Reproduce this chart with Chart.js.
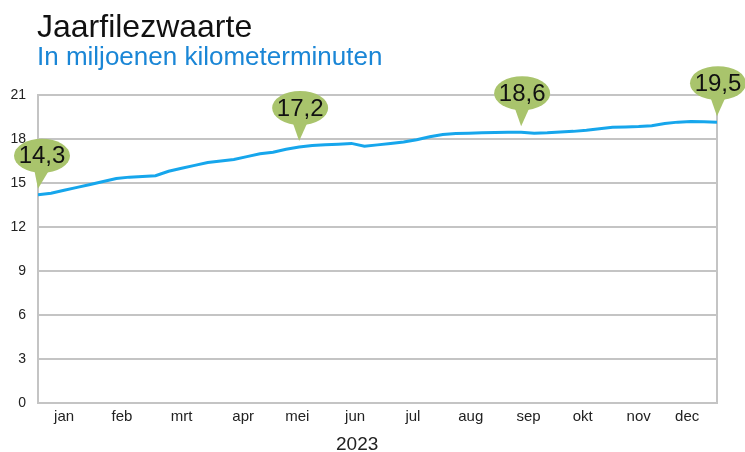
<!DOCTYPE html>
<html>
<head>
<meta charset="utf-8">
<script src="https://cdn.jsdelivr.net/npm/chart.js@4.4.1/dist/chart.umd.min.js"></script>
<style>
  html, body { margin: 0; padding: 0; background: #fff; }
  #wrap { position: relative; width: 745px; height: 452px; font-family: "Liberation Sans", Arial, sans-serif; }
  #chart { position: absolute; left: 0; top: 0; }
  .txt { position: absolute; white-space: nowrap; line-height: 1; }
  #title { left: 37px; top: 10px; font-size: 32px; color: #111; }
  #subtitle { left: 37px; top: 43px; font-size: 26px; color: #1a86d6; }
  #year { left: 336px; top: 434px; font-size: 19px; color: #222; }
</style>
</head>
<body>
<div id="wrap">
  <canvas id="chart" width="745" height="452"></canvas>
  <div class="txt" id="title">Jaarfilezwaarte</div>
  <div class="txt" id="subtitle">In miljoenen kilometerminuten</div>
  <div class="txt" id="year">2023</div>
</div>
<script>
// Jaarfilezwaarte per week (miljoen kilometerminuten, voortschrijdend jaartotaal)
const weekValues = [
  14.2, 14.3, 14.5, 14.7, 14.9, 15.1, 15.3, 15.4, 15.45, 15.5,
  15.8, 16.0, 16.2, 16.4, 16.5, 16.6, 16.8, 17.0, 17.1, 17.3,
  17.45, 17.55, 17.6, 17.65, 17.7, 17.5, 17.6, 17.7, 17.8, 17.95,
  18.15, 18.3, 18.38, 18.4, 18.42, 18.45, 18.46, 18.46, 18.4, 18.43,
  18.48, 18.52, 18.6, 18.7, 18.8, 18.82, 18.85, 18.9, 19.05, 19.15,
  19.2, 19.18, 19.15
];
const weekDays = weekValues.map((_, i) => i * 7);

// maanden op de x-as
const monthLabels = ['jan', 'feb', 'mrt', 'apr', 'mei', 'jun', 'jul', 'aug', 'sep', 'okt', 'nov', 'dec'];
const monthTickDays = [14, 45, 77, 110, 139, 170, 201, 232, 263, 292, 322, 348];

// y-as
const yTicks = [0, 3, 6, 9, 12, 15, 18, 21];

// ballonnen
const calloutDays = [0, 140, 259, 364];
const calloutLabels = ['14,3', '17,2', '18,6', '19,5'];

const gridColor = '#c4c4c4';

// ballonnetjes met waarde boven de lijn
const calloutPlugin = {
  id: 'callouts',
  afterDatasetsDraw(chart) {
    const { ctx, scales: { x, y } } = chart;
    ctx.save();
    calloutDays.forEach((day, i) => {
      const idx = Math.round(day / 7);
      const px = x.getPixelForValue(day);
      const py = y.getPixelForValue(weekValues[idx]);
      const tipX = px;
      const tipY = py - 6;
      const cx = i === 0 ? tipX + 4 : tipX + 1;
      const cy = tipY - 33;
      const rx = 28, ry = 17;
      ctx.fillStyle = '#a9c46c';
      ctx.beginPath();
      ctx.ellipse(cx, cy, rx, ry, 0, 0, Math.PI * 2);
      ctx.fill();
      ctx.beginPath();
      ctx.moveTo(cx - 8, cy + ry - 4);
      ctx.lineTo(tipX, tipY);
      ctx.lineTo(cx + 8, cy + ry - 4);
      ctx.closePath();
      ctx.fill();
      ctx.fillStyle = '#111';
      ctx.font = '24px "Liberation Sans", Arial, sans-serif';
      ctx.textAlign = 'center';
      ctx.textBaseline = 'middle';
      ctx.fillText(calloutLabels[i], cx, cy + 1);
    });
    ctx.restore();
  }
};

const ctx = document.getElementById('chart').getContext('2d');

new Chart(ctx, {
  type: 'line',
  data: {
    datasets: [{
      data: weekValues.map((v, i) => ({ x: weekDays[i], y: v })),
      borderColor: '#16a6ec',
      borderWidth: 3,
      pointRadius: 0,
      tension: 0,
      fill: false
    }]
  },
  options: {
    responsive: false,
    animation: false,
    layout: { padding: { top: 95, right: 28, left: 0, bottom: 0 } },
    plugins: {
      legend: { display: false },
      tooltip: { enabled: false }
    },
    scales: {
      x: {
        type: 'linear',
        min: 0,
        max: 364,
        afterBuildTicks: (scale) => {
          scale.ticks = monthTickDays.map(v => ({ value: v }));
        },
        afterFit: (scale) => { scale.height = 49; },
        ticks: {
          autoSkip: false,
          maxRotation: 0,
          padding: 5,
          color: '#222',
          font: { family: '"Liberation Sans", Arial, sans-serif', size: 15 },
          callback: (value) => monthLabels[monthTickDays.indexOf(value)]
        },
        grid: { display: false, drawTicks: false },
        border: { display: true, color: gridColor, width: 2 }
      },
      y: {
        min: 0,
        max: 21,
        afterBuildTicks: (scale) => {
          scale.ticks = yTicks.map(v => ({ value: v }));
        },
        afterFit: (scale) => { scale.width = 38; },
        ticks: {
          padding: 12,
          color: '#222',
          font: { family: '"Liberation Sans", Arial, sans-serif', size: 14 }
        },
        grid: { color: gridColor, lineWidth: 2, drawTicks: false },
        border: { display: true, color: gridColor, width: 2 }
      },
      yRight: {
        position: 'right',
        min: 0,
        max: 21,
        afterFit: (scale) => { scale.width = 0; },
        ticks: { display: false },
        grid: { drawOnChartArea: false, drawTicks: false },
        border: { display: true, color: gridColor, width: 2 }
      }
    }
  },
  plugins: [calloutPlugin]
});
</script>
</body>
</html>
